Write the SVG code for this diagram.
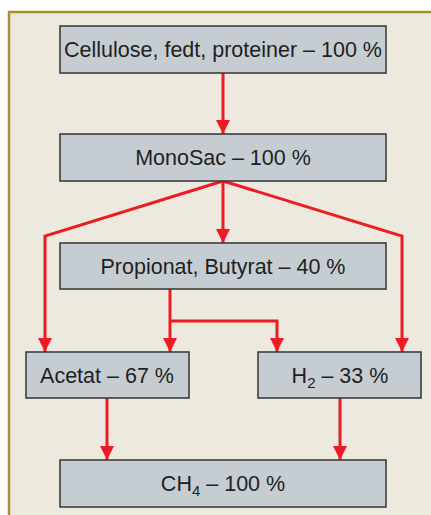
<svg xmlns="http://www.w3.org/2000/svg" width="431" height="515" viewBox="0 0 431 515">
<defs>
<style>
.box{fill:#c5cdd3;stroke:#333;stroke-width:1.5}
.t{font-family:"Liberation Sans",Arial,sans-serif;font-size:21.5px;fill:#231f20;text-anchor:middle}
.sub{font-size:15px}
.c{fill:none;stroke:#ed1c24;stroke-width:3;marker-end:url(#ah)}
</style>
<marker id="ah" viewBox="0 0 10 10" refX="10" refY="5" markerUnits="userSpaceOnUse" markerWidth="15" markerHeight="14" orient="auto">
<path d="M0,0 L10,5 L0,10 Z" fill="#ed1c24"/>
</marker>
</defs>
<rect x="0" y="0" width="431" height="515" fill="#fff"/>
<rect x="9" y="12" width="430" height="510" fill="#ede9df" stroke="#a3922f" stroke-width="2.5"/>
<g id="connectors">
<path class="c" d="M223,73 V134"/>
<path class="c" d="M223,181 V243"/>
<path class="c" d="M223,181 L45,236 V352"/>
<path class="c" d="M223,181 L402,236 V352"/>
<path class="c" d="M170,289 V352"/>
<path class="c" d="M170,321 H277 V352"/>
<path class="c" d="M107,398 V460"/>
<path class="c" d="M340,398 V460"/>
</g>
<g id="n1"><rect class="box" x="60" y="26" width="326" height="47"/><text class="t" x="223" y="57">Cellulose, fedt, proteiner – 100 %</text></g>
<g id="n2"><rect class="box" x="60" y="134" width="326" height="47"/><text class="t" x="223" y="165">MonoSac – 100 %</text></g>
<g id="n3"><rect class="box" x="60" y="243" width="326" height="46"/><text class="t" x="223" y="274">Propionat, Butyrat – 40 %</text></g>
<g id="n4"><rect class="box" x="26" y="352" width="163" height="46"/><text class="t" x="107" y="383">Acetat – 67 %</text></g>
<g id="n5"><rect class="box" x="258" y="352" width="163" height="46"/><text class="t" x="340" y="383">H<tspan class="sub" dy="5">2</tspan><tspan dy="-5"> – 33 %</tspan></text></g>
<g id="n6"><rect class="box" x="60" y="460" width="326" height="47"/><text class="t" x="223" y="491">CH<tspan class="sub" dy="5">4</tspan><tspan dy="-5"> – 100 %</tspan></text></g>
</svg>
